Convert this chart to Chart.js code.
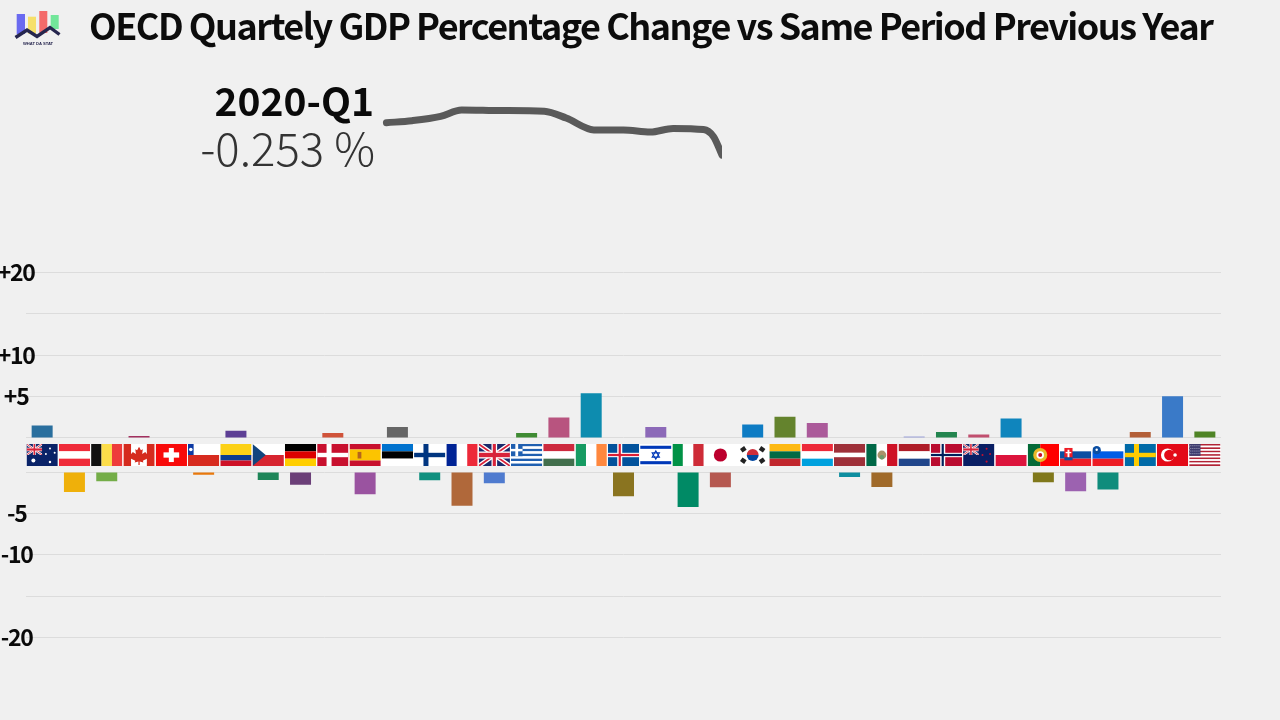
<!DOCTYPE html>
<html><head><meta charset="utf-8">
<script src="https://cdn.jsdelivr.net/npm/chart.js@4"></script>
<style>
html,body{margin:0;padding:0;background:#f0f0f0;width:1280px;height:720px;overflow:hidden}
canvas{position:absolute;display:block}
.t{position:absolute;font-family:"Noto Sans CJK JP","Noto Sans",sans-serif;white-space:nowrap;line-height:1}
#title{left:89px;top:6px;font-size:36px;font-weight:700;color:#0c0c0c;letter-spacing:-1.51px}
#q{right:906px;top:80px;font-size:39px;font-weight:700;color:#0a0a0a}
#v{right:905px;top:124px;font-size:45.5px;font-weight:300;color:#333}
#logo{position:absolute;left:0;top:0}
</style></head><body>
<canvas id="main" width="1280" height="720" style="left:0;top:0"></canvas>
<canvas id="trend" width="360" height="90" style="left:370px;top:87px"></canvas>
<svg id="logo" width="70" height="50" viewBox="0 0 70 50">
<rect x="16.7" y="14" width="8.3" height="20" fill="#6a6af0"/>
<rect x="28" y="16.7" width="8" height="17" fill="#f6e06a"/>
<rect x="39.3" y="11" width="8" height="22" fill="#f46a6a"/>
<rect x="50.7" y="15" width="8" height="14" fill="#72e69a"/>
<polyline points="15.5,37.5 27,30 37,36.5 50,27.5 59.5,34.5" fill="none" stroke="#26264e" stroke-width="3.4"/>
<text x="38" y="45.3" font-family="Liberation Sans" font-weight="700" font-size="4.1" text-anchor="middle" fill="#26264e">WHAT DA STAT</text>
</svg>
<div class="t" id="title">OECD Quartely GDP Percentage Change vs Same Period Previous Year</div>
<div class="t" id="q">2020-Q1</div>
<div class="t" id="v">-0.253 %</div>
<script>
const countries=["AUS","AUT","BEL","CAN","CHE","CHL","COL","CZE","DEU","DNK","ESP","EST","FIN","FRA","GBR","GRC","HUN","IRL","ISL","ISR","ITA","JPN","KOR","LTU","LUX","LVA","MEX","NLD","NOR","NZL","POL","PRT","SVK","SVN","SWE","TUR","USA"];
const gdpChange=[1.5,-2.42,-1.13,0.24,0.05,-0.32,0.88,-0.97,-1.53,0.6,-2.7,1.32,-1.0,-4.07,-1.37,0.6,2.48,5.42,-2.94,1.32,-4.23,-1.85,1.63,2.56,1.8,-0.6,-1.81,0.18,0.72,0.42,2.36,-1.25,-2.34,-2.1,0.72,5.06,0.8];
const barColors=["#2a6f9e","#efb00a","#74ad48","#a2305f","#7fb8cf","#e8780c","#5d3f95","#1e8558","#6b3f78","#d0533a","#9a53a0","#666666","#10907f","#b0683a","#4f7bcf","#3f8b33","#b8547f","#0d8caf","#8a7420","#8c69b8","#008a65","#b55850","#0e7cc4","#64832d","#ab5a9a","#0e8ea0","#a06a2a","#9aa0d8","#23854f","#c14f6f","#0f85bd","#80781b","#9c62b0","#0f8c7c","#b35f38","#3a7ac8","#4f8426"];
const upperTicks=[20,15,10,5,0];
const lowerTicks=[0,-5,-10,-15,-20];
const tickText={"20":"+20","10":"+10","5":"+5","-5":"-5","-10":"-10","-20":"-20"};
const trendQuarter=[0.17,3.2,6.6,9.1,13.8,18.9,21.5,24.8,28.3,31.5,34.2,37.8,39,40];
const trendValue=[2.27,2.43,2.77,3.27,3.22,3.16,2.64,1.71,1.70,1.54,1.83,1.74,1.18,-0.253];

const FONT='"Noto Sans CJK JP","Noto Sans",sans-serif';
const GAP=4.11;

function drawFlag(c,code,x,y,w,h){
  c.save();c.beginPath();c.rect(x,y,w,h);c.clip();
  const R=(a,b,cw,ch,col)=>{c.fillStyle=col;c.fillRect(x+a*w,y+b*h,cw*w,ch*h);};
  const H=(cols,rs)=>{let t=0;const s=rs?rs.reduce((p,q)=>p+q,0):cols.length;cols.forEach((col,i)=>{const f=(rs?rs[i]:1)/s;R(0,t,1,f,col);t+=f;});};
  const V=(cols,rs)=>{let t=0;const s=rs?rs.reduce((p,q)=>p+q,0):cols.length;cols.forEach((col,i)=>{const f=(rs?rs[i]:1)/s;R(t,0,f,1,col);t+=f;});};
  const N=(bg,cross,inner)=>{R(0,0,1,1,bg);R(0.3,0,0.16,1,cross);R(0,0.4,1,0.2,cross);if(inner){R(0.345,0,0.07,1,inner);R(0,0.45,1,0.1,inner);}};
  const C=(a,b,r,col)=>{c.fillStyle=col;c.beginPath();c.arc(x+a*w,y+b*h,r,0,Math.PI*2);c.fill();};
  const jack=(a,b,cw,ch)=>{
    const px=x+a*w,py=y+b*h,W=cw*w,Hh=ch*h;
    c.save();c.beginPath();c.rect(px,py,W,Hh);c.clip();
    c.fillStyle='#1a2a6c';c.fillRect(px,py,W,Hh);
    c.strokeStyle='#fff';c.lineWidth=Hh*0.2;c.beginPath();c.moveTo(px,py);c.lineTo(px+W,py+Hh);c.moveTo(px+W,py);c.lineTo(px,py+Hh);c.stroke();
    c.strokeStyle='#d8233a';c.lineWidth=Hh*0.08;c.beginPath();c.moveTo(px,py);c.lineTo(px+W,py+Hh);c.moveTo(px+W,py);c.lineTo(px,py+Hh);c.stroke();
    c.fillStyle='#fff';c.fillRect(px+W*0.41,py,W*0.18,Hh);c.fillRect(px,py+Hh*0.34,W,Hh*0.32);
    c.fillStyle='#d8233a';c.fillRect(px+W*0.45,py,W*0.1,Hh);c.fillRect(px,py+Hh*0.4,W,Hh*0.2);
    c.restore();};
  switch(code){
   case"AUS":R(0,0,1,1,'#0a2368');jack(0,0,0.5,0.5);C(.22,.75,2,'#fff');C(.75,.2,1,'#fff');C(.9,.4,1,'#fff');C(.62,.45,1,'#fff');C(.75,.82,1.2,'#fff');break;
   case"AUT":H(['#ef2b3a','#fff','#ef2b3a']);break;
   case"BEL":V(['#111','#fcdd4a','#ee3b3b']);break;
   case"CAN":V(['#d52b1e','#fff','#d52b1e'],[1,2,1]);
     c.fillStyle='#d52b1e';c.beginPath();[[.5,.12],[.56,.28],[.62,.24],[.6,.46],[.7,.36],[.74,.44],[.82,.42],[.76,.58],[.8,.64],[.62,.76],[.64,.84],[.52,.8],[.52,.96],[.48,.96],[.48,.8],[.36,.84],[.38,.76],[.2,.64],[.24,.58],[.18,.42],[.26,.44],[.3,.36],[.4,.46],[.38,.24],[.44,.28]].forEach((p,i)=>{const px=x+p[0]*w,py=y+p[1]*h;i?c.lineTo(px,py):c.moveTo(px,py);});c.closePath();c.fill();break;
   case"CHE":R(0,0,1,1,'#f80a0a');R(.42,.18,.16,.64,'#fff');R(.25,.38,.5,.24,'#fff');break;
   case"CHL":R(0,0,1,1,'#fff');R(0,.5,1,.5,'#d72b1f');R(0,0,.18,.5,'#0c39a3');C(.09,.25,1.8,'#fff');break;
   case"COL":H(['#fcd116','#0b3c8f','#ce1126'],[2,1,1]);break;
   case"CZE":H(['#fff','#d7242f']);c.fillStyle='#11457e';c.beginPath();c.moveTo(x,y);c.lineTo(x+w*.42,y+h/2);c.lineTo(x,y+h);c.fill();break;
   case"DEU":H(['#000','#dd0000','#ffce00']);break;
   case"DNK":N('#c8102e','#fff');break;
   case"ESP":H(['#c8102e','#fcc400','#c8102e'],[1,2,1]);R(.26,.36,.12,.3,'#b5651d');break;
   case"EST":H(['#0072ce','#000','#fff']);break;
   case"FIN":N('#fff','#003580');break;
   case"FRA":V(['#002395','#fff','#ed2939']);break;
   case"GBR":jack(0,0,1,1);break;
   case"GRC":for(let i=0;i<9;i++)R(0,i/9,1,1/9,i%2?'#fff':'#1f5fb0');R(0,0,.37,5/9,'#1f5fb0');R(.14,0,.09,5/9,'#fff');R(0,2/9,.37,1/9,'#fff');break;
   case"HUN":H(['#cd2a3e','#fff','#436f4d']);break;
   case"IRL":V(['#169b62','#fff','#ff883e']);break;
   case"ISL":N('#02529c','#fff','#dc1e35');break;
   case"ISR":R(0,0,1,1,'#fff');R(0,.08,1,.14,'#0038b8');R(0,.78,1,.14,'#0038b8');
     c.strokeStyle='#0038b8';c.lineWidth=1.1;[[-1],[1]].forEach(s=>{c.beginPath();const cx=x+w/2,cy=y+h/2,r=4.2*1;for(let i=0;i<3;i++){const an=-Math.PI/2*s[0]+i*2*Math.PI/3;const px=cx+r*Math.cos(an),py=cy+r*Math.sin(an);i?c.lineTo(px,py):c.moveTo(px,py);}c.closePath();c.stroke();});break;
   case"ITA":V(['#009246','#fff','#ce2b37']);break;
   case"JPN":R(0,0,1,1,'#fff');C(.5,.5,h*.3,'#bc002d');break;
   case"KOR":R(0,0,1,1,'#fff');
     c.fillStyle='#cd2e3a';c.beginPath();c.arc(x+w/2,y+h/2,h*.27,Math.PI,2*Math.PI);c.fill();
     c.fillStyle='#0047a0';c.beginPath();c.arc(x+w/2,y+h/2,h*.27,0,Math.PI);c.fill();
     [[.2,.24],[.8,.24],[.2,.76],[.8,.76]].forEach(p=>{c.save();c.translate(x+p[0]*w,y+p[1]*h);c.rotate((p[0]<.5)===(p[1]<.5)?-.6:.6);c.fillStyle='#222';c.fillRect(-2.5,-2.2,5,4.4);c.restore();});break;
   case"LTU":H(['#fdb913','#006a44','#c1272d']);break;
   case"LUX":H(['#ed2939','#fff','#00a1de']);break;
   case"LVA":H(['#9e3039','#fff','#9e3039'],[2,1,2]);break;
   case"MEX":V(['#006847','#fff','#ce1126']);C(.5,.5,h*.2,'#a8936a');C(.5,.6,h*.1,'#6d9a6a');break;
   case"NLD":H(['#ae1c28','#fff','#21468b']);break;
   case"NOR":N('#ba0c2f','#fff','#00205b');break;
   case"NZL":R(0,0,1,1,'#0a1f64');jack(0,0,.5,.5);C(.75,.22,1,'#c8102e');C(.86,.45,1,'#c8102e');C(.62,.5,1,'#c8102e');C(.75,.8,1.1,'#c8102e');break;
   case"POL":H(['#fff','#dc143c']);break;
   case"PRT":V(['#046a38','#ff0000'],[2,3]);C(.4,.5,h*.32,'#e8b828');C(.4,.5,h*.17,'#fff');C(.4,.5,h*.09,'#c8102e');break;
   case"SVK":H(['#fff','#0b4ea2','#ee1c25']);R(.14,.18,.26,.56,'#ee1c25');R(.14,.6,.26,.14,'#0b4ea2');R(.24,.26,.06,.34,'#fff');R(.18,.36,.18,.06,'#fff');break;
   case"SVN":H(['#fff','#005ce5','#ed1c24']);C(.14,.28,h*.19,'#0b4ea2');C(.14,.26,1.2,'#fff');break;
   case"SWE":N('#006aa7','#fecc02');break;
   case"TUR":R(0,0,1,1,'#e30a17');C(.34,.5,h*.3,'#fff');C(.4,.5,h*.24,'#e30a17');C(.58,.5,1.8,'#fff');break;
   case"USA":for(let i=0;i<13;i++)R(0,i/13,1,1/13,i%2?'#fff':'#b22234');R(0,0,.36,7/13,'#3c3b6e');
     for(let i=0;i<5;i++)for(let j=0;j<4;j++)R(.04+i*.065,.06+j*.12,.025,.04,'#cfd0e0');break;
  }
  c.restore();
}
const flagBand={id:'flagBand',
 beforeDraw(ch){ch.ctx.letterSpacing='-1.3px';},
 afterDatasetsDraw(ch){
  const c=ch.ctx,sx=ch.scales.x,up=ch.scales.yUp,lo=ch.scales.yLo;
  const mid=(up.getPixelForValue(0)+lo.getPixelForValue(0))/2;
  const fh=22,step=sx.getPixelForTick(1)-sx.getPixelForTick(0),fw=step-1;
  c.fillStyle='#ffffff';c.fillRect(sx.left,mid-fh/2,sx.right-sx.left,fh);
  countries.forEach((code,i)=>drawFlag(c,code,sx.getPixelForTick(i)-fw/2,mid-fh/2,fw,fh));
}};
const yAxis=(min,max,list,pad)=>({
  position:'left',min,max,
  afterBuildTicks(s){s.ticks=list.map(value=>({value}));},
  afterFit(s){s.width=0;s._computeLabelArea=()=>undefined;},
  border:{display:false},
  grid:{color:'#dcdcdc',lineWidth:1,drawTicks:false},
  ticks:{autoSkip:false,padding:pad,crossAlign:'center',color:'#0a0a0a',
    font:{family:FONT,size:23,weight:'700'},
    callback:v=>tickText[String(v)]||''}
});
new Chart(document.getElementById('main'),{
  type:'bar',
  data:{labels:countries,datasets:[
    {data:gdpChange.map(v=>v>0?v:null),yAxisID:'yUp',backgroundColor:barColors},
    {data:gdpChange.map(v=>v<0?v:null),yAxisID:'yLo',backgroundColor:barColors}
  ]},
  options:{responsive:false,animation:false,
    layout:{padding:{left:26,right:59,top:272.5,bottom:82.5}},
    plugins:{legend:{display:false},title:{display:false},tooltip:{enabled:false}},
    datasets:{bar:{grouped:false,categoryPercentage:1,barPercentage:.65}},
    scales:{
      x:{display:false},
      yUp:yAxis(-20-GAP,20,upperTicks,-10.5),
      yLo:yAxis(-20,20+GAP,lowerTicks,-8.5)
    }},
  plugins:[flagBand]
});
new Chart(document.getElementById('trend'),{
  type:'line',
  data:{datasets:[{data:trendQuarter.map((x,i)=>({x,y:trendValue[i]})),borderColor:'#5a5a5a',borderWidth:7,
    borderCapStyle:'round',borderJoinStyle:'round',pointRadius:0,cubicInterpolationMode:'monotone',clip:{left:false,top:false,bottom:false,right:0}}]},
  options:{responsive:false,animation:false,
    layout:{padding:{left:15,right:8,top:13.6,bottom:18.8}},
    plugins:{legend:{display:false},tooltip:{enabled:false}},
    scales:{x:{type:'linear',display:false,min:0,max:40},y:{display:false,min:-0.5,max:4}}}
});
</script>
</body></html>
